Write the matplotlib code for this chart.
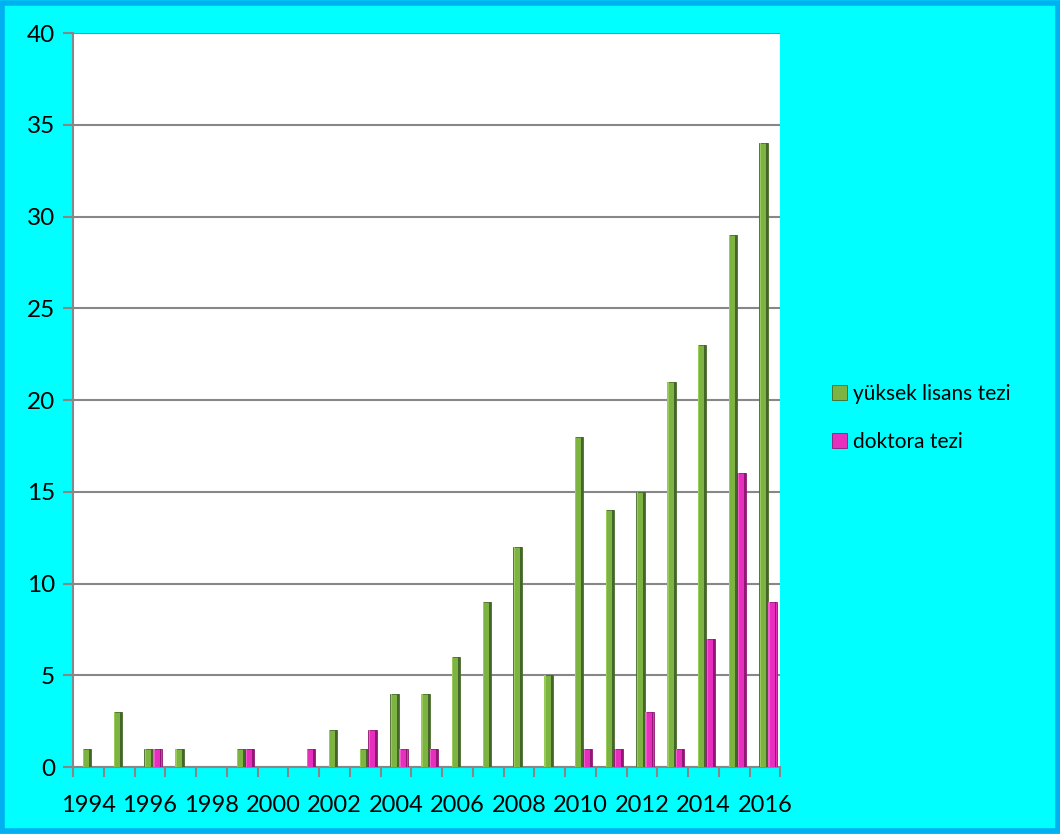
import matplotlib.pyplot as plt
import numpy as np
from matplotlib.patches import Rectangle

years = list(range(1994, 2017))
yuksek_lisans = [1, 3, 1, 1, 0, 1, 0, 0, 2, 1, 4, 4, 6, 9, 12, 5, 18, 14, 15, 21, 23, 29, 34]
doktora = [0, 0, 1, 0, 0, 1, 0, 1, 0, 2, 1, 1, 0, 0, 0, 0, 1, 1, 3, 1, 7, 16, 9]

green = '#7DB343'
green_light = '#98CC5A'
green_dark = '#45662A'
pink = '#E630BD'
pink_light = '#F25ED2'
pink_dark = '#8E1872'
grid_gray = '#878787'

plt.rcParams['font.family'] = ['Lato', 'DejaVu Sans']

fig = plt.figure(figsize=(10.6, 8.34), dpi=100, facecolor='#00FFFF')
ax = fig.add_axes([0.0689, 0.0803, 0.6672, 0.8801])
ax.set_facecolor('white')

x = np.arange(len(years))
w = 0.28


def bevel_bars(pos, vals, face, light, dark, label):
    # main face, then a light strip on the left and a dark strip on the right
    ax.bar(pos, vals, w, color=face, edgecolor=dark, linewidth=0.6, label=label, zorder=3)
    ax.bar(pos - w / 2 + 0.03, vals, 0.04, color=light, linewidth=0, zorder=4)
    ax.bar(pos + w / 2 - 0.035, vals, 0.06, color=dark, linewidth=0, zorder=4)


bevel_bars(x - 0.04, yuksek_lisans, green, green_light, green_dark, 'yüksek lisans tezi')
bevel_bars(x + 0.24, doktora, pink, pink_light, pink_dark, 'doktora tezi')

ax.set_xlim(-0.5, len(years) - 0.5)
ax.set_ylim(0, 40)
ax.set_yticks(range(0, 41, 5))
ax.yaxis.grid(True, color=grid_gray, linewidth=1.5, zorder=1)
ax.set_axisbelow(True)

# category boundaries carry the tick marks, labels go on every other year
ax.set_xticks(np.arange(-0.5, len(years), 1.0))
ax.set_xticklabels([])
ax.set_xticks(x[::2], minor=True)
ax.set_xticklabels([str(y) for y in years[::2]], minor=True)
ax.tick_params(axis='x', which='major', length=7, width=1.5, color=grid_gray)
ax.tick_params(axis='x', which='minor', length=0, pad=20, labelsize=17)
ax.tick_params(axis='y', length=7, width=1.5, color=grid_gray, labelsize=17.5, pad=6)

for side in ['top', 'right']:
    ax.spines[side].set_visible(False)
for side in ['left', 'bottom']:
    ax.spines[side].set_color(grid_gray)
    ax.spines[side].set_linewidth(1.5)

handles, labels = ax.get_legend_handles_labels()
leg = fig.legend(handles[:2], labels[:2], loc='center left', bbox_to_anchor=(0.767, 0.499),
                 frameon=False, fontsize=15, handlelength=0.75, handleheight=0.75,
                 handletextpad=0.25, labelspacing=1.35)

fig.patches.append(Rectangle((0.002, 0.003), 0.996, 0.994, transform=fig.transFigure,
                             fill=False, edgecolor='#00B0F0', linewidth=4))

fig.savefig('out.png', dpi=100, facecolor=fig.get_facecolor())
